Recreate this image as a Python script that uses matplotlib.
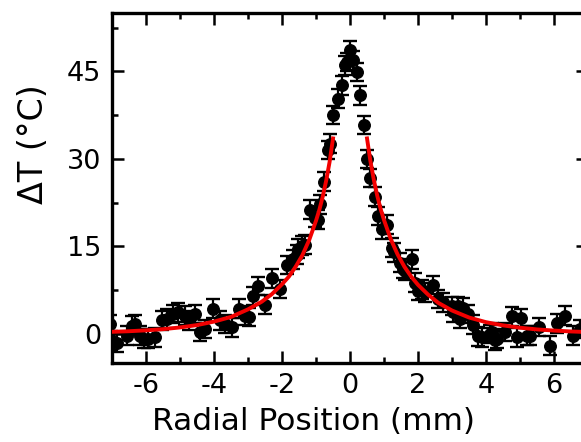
"""Radial temperature profile with fitted decay curves."""

import matplotlib as mpl
import matplotlib.pyplot as plt
from matplotlib.ticker import MultipleLocator


pos_mm = [
    -7.05, -7.02, -6.85, -6.57, -6.42, -6.32, -6.18, -6.05, -5.93, -5.74,
    -5.54, -5.39, -5.20, -5.05, -4.85, -4.75, -4.56, -4.41, -4.26, -4.02,
    -3.82, -3.68, -3.48, -3.28, -3.09, -2.96, -2.84, -2.70, -2.50, -2.30,
    -2.06, -1.86, -1.67, -1.57, -1.52, -1.42, -1.32, -1.18, -1.03, -0.93,
    -0.88, -0.78, -0.64, -0.60, -0.49, -0.34, -0.24, -0.15, -0.08, 0.00,
    0.10, 0.20, 0.29, 0.40, 0.49, 0.59, 0.72, 0.83, 0.95, 1.08,
    1.23, 1.30, 1.47, 1.57, 1.62, 1.81, 1.91, 2.01, 2.13, 2.21,
    2.45, 2.60, 2.74, 2.99, 3.04, 3.19, 3.24, 3.33, 3.48, 3.63,
    3.77, 3.87, 4.12, 4.17, 4.26, 4.31, 4.56, 4.75, 4.90, 5.03,
    5.20, 5.29, 5.56, 5.88, 6.10, 6.32, 6.57, 6.76,
]
delta_t = [
    1.7, -1.1, -1.5, -0.3, 1.4, 1.7, -0.3, -0.8, -0.85, -0.6,
    2.3, 2.6, 3.4, 3.7, 3.1, 2.3, 3.4, 0.3, 0.85, 4.3,
    2.3, 1.7, 1.1, 4.3, 3.1, 2.9, 6.5, 8.2, 5.0, 9.5,
    7.7, 11.8, 12.8, 13.6, 14.6, 15.1, 15.3, 21.3, 19.9, 19.6,
    22.2, 26.1, 31.5, 32.6, 37.5, 40.3, 42.6, 46.0, 46.6, 48.6,
    46.9, 44.9, 40.9, 35.8, 30.0, 26.7, 23.5, 20.2, 17.9, 18.7,
    14.8, 14.0, 12.2, 11.2, 10.8, 12.8, 8.8, 7.4, 7.6, 7.1,
    8.4, 6.0, 5.4, 4.8, 3.7, 4.8, 2.6, 4.5, 3.4, 1.6,
    -0.4, -0.6, 0.0, 0.3, -1.1, -0.85, 0.3, 3.0, -0.6, 2.7,
    -0.3, -0.3, 1.2, -2.0, 1.8, 3.1, -0.3, 0.85,
]
err_t = 1.6

# Fitted curves (left and right branches).
fit_left_x = [-7.0, -6.5, -6.0, -5.5, -5.0, -4.5, -4.0, -3.5, -3.0, -2.6,
              -2.3, -2.0, -1.8, -1.6, -1.4, -1.2, -1.0, -0.9, -0.8, -0.7,
              -0.6, -0.5]
fit_left_y = [0.35, 0.45, 0.6, 0.8, 1.1, 1.5, 2.1, 2.9, 4.2, 5.5,
              6.8, 8.5, 9.8, 11.5, 13.5, 16.1, 19.4, 21.3, 23.6, 26.3,
              29.5, 33.5]
fit_right_x = [0.5, 0.6, 0.7, 0.8, 0.9, 1.0, 1.2, 1.4, 1.6, 1.8,
               2.0, 2.3, 2.6, 3.0, 3.5, 4.0, 4.5, 5.0, 5.5, 6.0,
               6.5, 7.0]
fit_right_y = [33.5, 29.6, 26.4, 23.7, 21.4, 19.5, 16.2, 13.6, 11.5, 9.8,
               8.4, 6.7, 5.3, 4.0, 2.8, 2.0, 1.45, 1.05, 0.76, 0.56,
               0.41, 0.3]

x_ticks = [-6, -4, -2, 0, 2, 4, 6]
y_ticks = [0, 15, 30, 45]

RED = "#f20000"


def main() -> None:
    mpl.rcParams.update(
        {
            "font.family": "DejaVu Sans",
            "axes.linewidth": 2.4,
            "axes.unicode_minus": False,
        }
    )

    fig = plt.figure(figsize=(5.81, 4.42), dpi=100)
    fig.patch.set_facecolor("white")
    ax = fig.add_axes([0.1928, 0.1787, 0.8193, 0.7919])

    ax.errorbar(
        pos_mm,
        delta_t,
        yerr=err_t,
        fmt="o",
        color="black",
        ms=8.3,
        elinewidth=1.6,
        capsize=5.0,
        capthick=1.7,
        zorder=2,
    )
    ax.plot(fit_left_x, fit_left_y, color=RED, lw=2.8, zorder=3)
    ax.plot(fit_right_x, fit_right_y, color=RED, lw=2.8, zorder=3)

    ax.set_xlim(-7, 7)
    ax.set_ylim(-5, 55)
    ax.set_xticks(x_ticks)
    ax.set_yticks(y_ticks)
    ax.xaxis.set_minor_locator(MultipleLocator(1))
    ax.yaxis.set_minor_locator(MultipleLocator(7.5))
    ax.tick_params(which="both", direction="in", top=True, right=True, width=1.8)
    ax.tick_params(which="major", length=8.5, labelsize=19.5)
    ax.tick_params(which="minor", length=4.5)
    ax.tick_params(axis="x", pad=7)
    ax.tick_params(axis="y", pad=8)

    fig.text(0.540, 0.027, "Radial Position (mm)", ha="center", va="baseline", fontsize=22.5)
    fig.text(
        0.074,
        0.674,
        "ΔT (°C)",
        rotation=90,
        rotation_mode="anchor",
        ha="center",
        va="baseline",
        fontsize=24,
    )

    fig.savefig("out.png", dpi=100, facecolor="white")
    plt.close(fig)


if __name__ == "__main__":
    main()
